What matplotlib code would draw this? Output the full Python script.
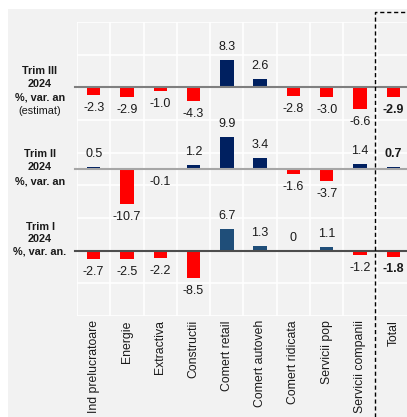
import matplotlib
matplotlib.use("Agg")
import matplotlib.pyplot as plt
from matplotlib.patches import Rectangle
from matplotlib.lines import Line2D
import numpy as np

plt.rcParams['font.family'] = ['Liberation Sans', 'DejaVu Sans']

categories = ["Ind prelucratoare", "Energie", "Extractiva", "Constructii",
              "Comert retail", "Comert autoveh", "Comert ridicata",
              "Servicii pop", "Servicii companii", "Total"]
q3_values = [-2.3, -2.9, -1.0, -4.3, 8.3, 2.6, -2.8, -3.0, -6.6, -2.9]
q2_values = [0.5, -10.7, -0.1, 1.2, 9.9, 3.4, -1.6, -3.7, 1.4, 0.7]
q1_values = [-2.7, -2.5, -2.2, -8.5, 6.7, 1.3, 0, 1.1, -1.2, -1.8]
row_labels = [
    ("Trim III", "2024", "%, var. an", "(estimat)"),
    ("Trim II", "2024", "%, var. an"),
    ("Trim I", "2024", "%, var. an."),
]

W, H = 407, 417
fig = plt.figure(figsize=(W / 100, H / 100), dpi=100)
fig.patch.set_facecolor('white')
bg = Rectangle((8 / W, 0), 1, 1 - 9 / H, transform=fig.transFigure,
               facecolor='#f2f2f2', edgecolor='none', zorder=-5)
fig.patches.append(bg)

ax = fig.add_axes([77 / W, 1 - 316 / H, 1 - 77 / W, (316 - 22) / H])
ax.set_zorder(2)
ax.set_facecolor('#f2f2f2')
ax.set_xlim(-0.5, 9.41)
ax.set_ylim(-20, 70)
ax.set_yticks(np.arange(-20, 71, 10))
ax.set_xticks(np.arange(len(categories)))
ax.set_xticklabels(categories, rotation=90, fontsize=8.8, color='#1a1a1a', va='top')
ax.tick_params(axis='x', which='both', length=0, pad=3)
ax.tick_params(axis='y', length=0, labelleft=False)
ax.grid(False)
for y in np.arange(-20, 71, 10):
    ax.axhline(y, color='white', lw=1.2, zorder=1)
for xv in np.arange(-0.5, 9.5, 1):
    ax.axvline(xv, color='white', lw=1.2, zorder=1)
for s in ax.spines.values():
    s.set_visible(False)

x = np.arange(len(categories))
series = [(q3_values, 50, '#002060', '#7f7f7f'),
          (q2_values, 25, '#002060', '#a6a6a6'),
          (q1_values, 0, '#1f4e79', '#4d4d4d')]
for vals, off, poscol, zcol in series:
    cols = [poscol if v >= 0 else '#ff0000' for v in vals]
    ax.bar(x, vals, width=0.4, bottom=off, color=cols, zorder=3)
    ax.axhline(off, xmin=-0.006, xmax=1, color=zcol, lw=1.5, zorder=4, clip_on=False)
    for i, v in enumerate(vals):
        weight = 'bold' if i == len(vals) - 1 else 'normal'
        if v >= 0:
            ax.annotate(f"{v:g}" if v == 0 else f"{v:.1f}", (i, off + v), xytext=(0, 5),
                        textcoords='offset points', ha='center', va='bottom',
                        fontsize=9, color='#1a1a1a', fontweight=weight, zorder=5)
        else:
            ax.annotate(f"{v:.1f}", (i, off + v), xytext=(0, -5),
                        textcoords='offset points', ha='center', va='top',
                        fontsize=9, color='#1a1a1a', fontweight=weight, zorder=5)

# row labels
row_y = [[71, 84, 98, 111], [154, 167, 181], [227, 239, 252]]
for lab, ys in zip(row_labels, row_y):
    for j, (t, yy) in enumerate(zip(lab, ys)):
        fw = 'normal' if t.startswith('(') else 'bold'
        fig.text(40 / W, 1 - yy / H, t, ha='center', va='center', fontsize=7.8,
                 fontweight=fw, color='#1a1a1a', zorder=6)

# dashed box around Total
xl = 375 / W
yt = 1 - 12 / H
fig.lines.append(Line2D([xl, xl, 1.0], [0, yt, yt], transform=fig.transFigure,
                        color='black', lw=1, linestyle=(0, (3, 2)), zorder=10))

fig.savefig('out.png', dpi=100)
